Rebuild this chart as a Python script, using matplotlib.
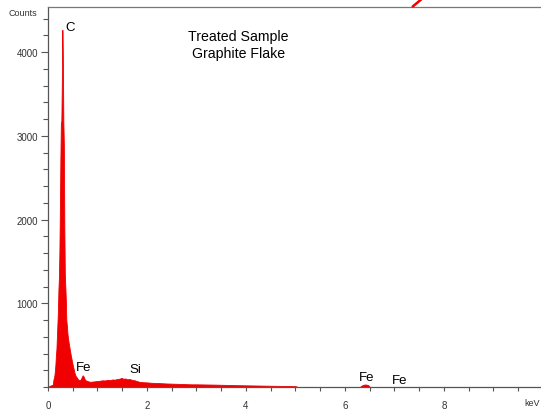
import matplotlib
matplotlib.use("Agg")
import matplotlib.pyplot as plt
from matplotlib.lines import Line2D
from matplotlib.ticker import MultipleLocator, FixedLocator

plt.rcParams['font.family'] = ['Liberation Sans', 'DejaVu Sans']

# Spectrum (energy in keV, counts)
energy = [0.00, 0.03, 0.06, 0.09, 0.10, 0.11, 0.12, 0.13, 0.14, 0.15, 0.16, 0.17, 0.18, 0.19,
          0.20, 0.21, 0.22, 0.23, 0.24, 0.25, 0.26, 0.27, 0.28, 0.29, 0.30, 0.31, 0.32, 0.33,
          0.34, 0.35, 0.36, 0.37, 0.38, 0.39, 0.40, 0.42, 0.44, 0.46, 0.48, 0.50, 0.52, 0.54,
          0.56, 0.58, 0.60, 0.62, 0.64, 0.66, 0.68, 0.70, 0.72, 0.74, 0.76, 0.80, 0.85, 0.90,
          0.95, 1.00, 1.05, 1.10, 1.15, 1.20, 1.25, 1.30, 1.35, 1.40, 1.45, 1.49, 1.52, 1.56,
          1.60, 1.65, 1.70, 1.75, 1.80, 1.85, 1.90, 2.00, 2.10, 2.20, 2.30, 2.40, 2.50, 2.60,
          2.70, 2.80, 2.90, 3.00, 3.20, 3.40, 3.60, 3.80, 4.00, 4.20, 4.40, 4.60, 4.80, 5.00,
          5.05, 6.30, 6.33, 6.38, 6.42, 6.47, 6.50, 9.96]
counts = [0, 12, 20, 25, 35, 90, 110, 140, 200, 270, 380, 450, 600, 750,
          900, 1150, 1300, 1600, 2100, 2700, 3150, 3180, 3650, 4265, 3950, 3170, 2900, 1900,
          1350, 1200, 1050, 800, 740, 660, 600, 520, 450, 380, 320, 260, 210, 160,
          130, 115, 95, 85, 80, 90, 115, 140, 125, 95, 80, 70, 62, 65,
          68, 72, 75, 80, 78, 85, 82, 90, 88, 95, 100, 110, 98, 102,
          92, 95, 85, 80, 70, 62, 58, 55, 50, 48, 45, 42, 40, 38,
          36, 34, 32, 32, 30, 28, 25, 22, 20, 18, 16, 14, 12, 10,
          0, 0, 15, 28, 30, 22, 0, 0]

# Peak labels (text, energy, counts)
peak_labels = ["C", "Fe", "Si", "Fe", "Fe"]
peak_x = [0.45, 0.72, 1.76, 6.43, 7.10]
peak_y = [4300, 240, 210, 120, 85]

y_major = [1000, 2000, 3000, 4000]
x_major = [0, 2, 4, 6, 8]

fig = plt.figure(figsize=(5.41, 4.14), dpi=100)
ax = fig.add_axes([48/541, 26/414, (541-48)/541, (388-8)/414])

ax.fill_between(energy, 0, counts, color='#f00000', linewidth=0.6, edgecolor='#f00000')

ax.set_xlim(0, 9.96)
ax.set_ylim(0, 4538)

ax.xaxis.set_major_locator(FixedLocator(x_major))
ax.xaxis.set_minor_locator(MultipleLocator(0.5))
ax.yaxis.set_major_locator(FixedLocator(y_major))
ax.yaxis.set_minor_locator(MultipleLocator(200))

spine_col = '#555555'
ax.spines['right'].set_visible(False)
for s in ['left', 'bottom', 'top']:
    ax.spines[s].set_color(spine_col)
    ax.spines[s].set_linewidth(0.9)
ax.spines['top'].set_color('#777777')

ax.tick_params(axis='y', which='major', length=5, width=0.8, color=spine_col,
               labelsize=7, labelcolor='#333333', pad=2)
ax.tick_params(axis='y', which='minor', length=3.5, width=0.8, color=spine_col)
ax.tick_params(axis='x', which='both', length=3.2, width=0.8, color=spine_col,
               labelsize=7, labelcolor='#333333', pad=6.5)

for t, x, y in zip(peak_labels, peak_x, peak_y):
    ax.text(x, y, t, fontsize=9.5, ha='center', va='center', color='black')

ax.text(3.85, 4090, "Treated Sample\nGraphite Flake", fontsize=10.2, ha='center',
        va='center', color='black', linespacing=1.2)

fig.text(23/541, 1 - 13/414, "Counts", fontsize=6.5, ha='center', va='center', color='#333333')
fig.text(532/541, 1 - 404/414, "keV", fontsize=6.5, ha='center', va='center', color='#333333')

fig.add_artist(Line2D([413/541, 421.7/541], [1 - 7.3/414, 1.0], color='#f00000',
                      linewidth=1.8, transform=fig.transFigure))

fig.savefig("out.png", dpi=100)
